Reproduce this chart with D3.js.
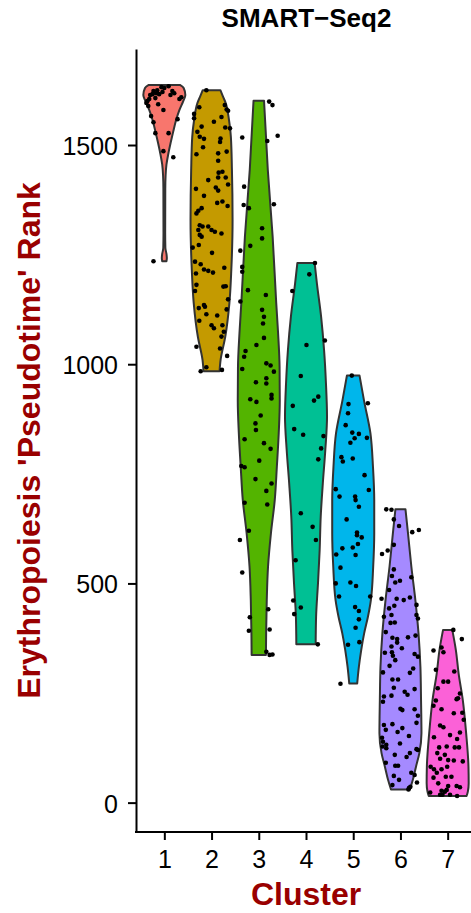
<!DOCTYPE html>
<html><head><meta charset="utf-8">
<script src="https://cdn.jsdelivr.net/npm/d3@7"></script>
<style>body{margin:0;background:#fff}svg{display:block}text{font-family:"Liberation Sans",Arial,Helvetica,sans-serif}</style>
</head><body>
<script>
const clusters = ["1","2","3","4","5","6","7"];
const fills = ["#F8766D","#C49A00","#53B400","#00C094","#00B6EB","#A58AFF","#FB61D7"];
const yTicks = [0,500,1000,1500];
const titleText = "SMART\u2212Seq2";
const yLabel = "Erythropoiesis 'Pseudotime' Rank";
const xLabel = "Cluster";

// violin outlines: [rank, relative width]
const violin1 = [[1637,0.74],[1630,0.92],[1614,1.0],[1600,0.9],[1580,0.72],[1557,0.56],[1530,0.42],[1505,0.3],[1480,0.19],[1455,0.1],[1430,0.06],[1400,0.045],[1300,0.04],[1265,0.05],[1252,0.1],[1242,0.12],[1235,0.1]];
const violin2 = [[1625,0.42],[1610,0.55],[1596,0.67],[1557,0.83],[1518,0.92],[1443,0.97],[1329,1.0],[1215,0.94],[1140,0.85],[1062,0.65],[1010,0.43],[984,0.38]];
const violin3 = [[1601,0.25],[1443,0.43],[1291,0.66],[1140,0.83],[1070,0.92],[994,0.99],[918,1.0],[843,0.95],[766,0.86],[690,0.76],[615,0.58],[538,0.44],[462,0.38],[387,0.35],[337,0.34]];
const violin4 = [[1231,0.41],[1184,0.52],[1108,0.72],[1032,0.86],[956,0.95],[880,1.0],[805,0.92],[728,0.8],[652,0.7],[576,0.65],[500,0.57],[424,0.48],[361,0.46]];
const violin5 = [[974,0.3],[918,0.51],[842,0.82],[766,0.94],[690,1.0],[614,1.0],[538,0.95],[462,0.84],[424,0.7],[386,0.52],[348,0.38],[310,0.27],[272,0.19]];
const violin6 = [[669,0.24],[614,0.36],[538,0.52],[462,0.71],[386,0.86],[310,0.95],[234,0.98],[158,1.0],[113,0.9],[82,0.74],[52,0.59],[30,0.45]];
const violin7 = [[394,0.22],[348,0.39],[295,0.52],[234,0.72],[158,0.88],[82,0.99],[44,1.0],[25,0.96],[15,0.9]];

// cells: [rank, jitter in cluster units]
const pts1 = [[1623,-0.23],[1618,-0.17],[1616,-0.25],[1616,-0.11],[1632,-0.06],[1634,0.09],[1623,0.17],[1609,0.36],[1605,0.32],[1600,-0.36],[1605,-0.32],[1596,-0.38],[1593,-0.13],[1580,-0.02],[1566,-0.28],[1552,-0.23],[1559,0.28],[1527,-0.19],[1527,0.09],[1486,-0.02],[1472,0.19],[1235,-0.23],[1614,-0.30],[1625,-0.15],[1630,0],[1614,0.13],[1589,-0.34],[1621,-0.04],[1607,-0.19],[1618,0.21]];
const pts2 = [[1625,-0.11],[1586,-0.26],[1571,-0.37],[1561,-0.37],[1591,0.28],[1581,0.32],[1578,0.35],[1564,0.21],[1553,0.05],[1540,0.29],[1538,0.39],[1542,-0.21],[1530,-0.30],[1519,-0.25],[1514,-0.16],[1515,0.19],[1507,0.18],[1495,-0.18],[1479,-0.32],[1481,0.14],[1485,0.32],[1464,0.14],[1437,0.15],[1439,0.23],[1426,0.14],[1426,0.30],[1420,-0.07],[1410,0.35],[1403,0.09],[1396,0.14],[1400,-0.33],[1384,-0.16],[1368,0.12],[1371,0.23],[1361,0.34],[1350,-0.28],[1344,-0.32],[1356,-0.21],[1317,-0.25],[1306,-0.28],[1314,-0.19],[1314,-0.07],[1295,-0.25],[1291,-0.21],[1306,0],[1302,0.07],[1298,0.21],[1272,-0.27],[1266,-0.40],[1254,0.01],[1234,-0.35],[1228,-0.23],[1216,-0.16],[1213,-0.07],[1209,0.03],[1207,-0.33],[1220,0.27],[1181,-0.32],[1167,-0.35],[1177,0.25],[1178,0.30],[1148,0.35],[1128,-0.27],[1135,-0.16],[1131,-0.14],[1125,0.32],[1099,-0.26],[1114,-0.11],[1111,0.12],[1089,0],[1082,0.05],[1089,0.23],[1074,0.26],[1063,0.21],[1040,-0.32],[1036,0.18],[1019,0.33],[993,-0.11],[984,-0.23],[987,0.22]];
const pts3 = [[1599,0.22],[1591,0.29],[1521,0.40],[1509,0.18],[1517,-0.35],[1405,-0.31],[1363,-0.32],[1356,-0.21],[1365,0.32],[1310,0.07],[1287,0.07],[1270,-0.18],[1259,-0.39],[1222,-0.35],[1211,-0.35],[1169,-0.23],[1158,0.15],[1143,-0.39],[1124,0.07],[1108,0.11],[1093,0.09],[1060,0.11],[1044,-0.05],[1030,-0.28],[1017,-0.31],[989,-0.35],[1002,0.16],[997,0.25],[983,0.32],[959,-0.06],[968,0.16],[956,0.16],[930,0.27],[922,0.27],[920,-0.18],[914,-0.05],[883,0.04],[865,-0.07],[850,-0.06],[829,-0.30],[820,0.11],[807,0.25],[780,0.01],[768,-0.37],[765,-0.30],[738,-0.07],[728,0.27],[711,0.16],[684,-0.30],[680,0.18],[620,-0.21],[599,-0.40],[525,-0.35],[441,0.20],[423,-0.19],[395,0.23],[392,-0.21],[344,0.16],[337,0.23],[338,0.29]];
const pts4 = [[1231,0.19],[1205,0.07],[1167,-0.29],[1054,0.40],[1044,0.01],[973,-0.11],[926,0.26],[917,0.17],[905,-0.28],[852,-0.25],[839,-0.06],[836,0.37],[808,0.32],[783,0.26],[660,-0.11],[629,0.14],[599,0.21],[553,-0.22],[461,-0.27],[445,-0.11],[430,-0.25],[361,0.25]];
const pts5 = [[974,-0.03],[911,0.31],[909,-0.10],[888,-0.11],[861,-0.16],[844,-0.02],[841,0.12],[831,0.03],[821,-0.06],[832,0.29],[788,-0.25],[778,-0.22],[785,-0.01],[747,0.24],[715,-0.37],[698,-0.29],[713,0.33],[698,0.04],[690,0.05],[675,0.12],[646,-0.14],[616,0.08],[610,0.08],[605,0.18],[590,0.10],[582,-0.01],[565,0.05],[580,-0.23],[566,-0.36],[536,-0.27],[500,-0.37],[502,-0.06],[494,0.06],[470,-0.30],[470,0.36],[446,0.04],[437,0.12],[418,0.12],[399,0.05],[366,0.13],[360,-0.11],[271,-0.27]];
const pts6 = [[669,-0.30],[668,-0.19],[646,-0.14],[631,-0.03],[617,0.25],[622,0.39],[567,-0.39],[575,-0.27],[588,-0.14],[532,-0.14],[517,-0.18],[502,-0.11],[506,-0.01],[514,0.23],[485,-0.24],[465,-0.40],[465,-0.08],[462,0.07],[468,0.20],[451,0.34],[443,-0.24],[449,-0.13],[428,-0.19],[428,0.34],[420,0.37],[424,-0.35],[410,-0.21],[411,-0.12],[389,-0.31],[381,0.32],[377,0.16],[376,-0.17],[373,-0.07],[356,-0.19],[365,-0.07],[352,0.03],[342,-0.33],[343,-0.18],[335,-0.16],[325,-0.11],[312,-0.23],[339,0.30],[333,0.37],[306,0.27],[296,0.20],[297,-0.37],[281,-0.17],[281,-0.05],[262,-0.14],[253,0.09],[246,0.15],[259,0.30],[242,-0.35],[230,-0.37],[244,-0.19],[214,0],[211,0.04],[213,0.30],[198,0.37],[182,0.34],[177,-0.35],[179,-0.17],[166,-0.31],[161,-0.06],[170,0.04],[152,0.18],[135,-0.01],[148,-0.39],[139,-0.37],[132,-0.30],[128,-0.38],[124,-0.30],[122,0.34],[120,0.37],[113,0.20],[104,0.13],[109,-0.12],[91,-0.31],[84,-0.11],[84,-0.05],[68,0.23],[63,0.30],[61,-0.14],[52,-0.03],[40,-0.17],[33,0.18],[36,0.21],[46,0.35],[30,0.17]];
const pts7 = [[394,0.12],[373,0.30],[347,-0.30],[354,-0.13],[343,-0.09],[303,-0.25],[299,0.14],[261,-0.21],[276,0.01],[276,-0.09],[249,0.26],[238,0.22],[236,0.19],[233,-0.25],[221,-0.30],[213,-0.13],[204,0.13],[205,0.31],[189,0.34],[176,-0.16],[172,-0.09],[160,0.26],[154,0.05],[149,-0.29],[145,0.20],[126,0.15],[126,0.24],[126,-0.18],[128,-0.02],[113,-0.22],[109,-0.06],[100,-0.16],[97,0.01],[96,0.13],[94,0.32],[82,-0.36],[76,-0.29],[76,-0.13],[82,-0.01],[68,-0.23],[59,-0.04],[59,0.08],[57,-0.30],[38,0.19],[38,0.01],[44,-0.20],[23,-0.37],[27,-0.13],[25,-0.06],[29,-0.02],[18,-0.11],[18,-0.16],[15,0.20],[35,0.26],[18,0.05]];

const violins = [violin1,violin2,violin3,violin4,violin5,violin6,violin7];
const points = [pts1,pts2,pts3,pts4,pts5,pts6,pts7];

(function(){
const W = 471, H = 913;
const mLeft = 136, mRight = 476, mTop = 49, mBottom = 832;
const svg = d3.select("body").append("svg").attr("width", W).attr("height", H);

const x = d3.scalePoint().domain(clusters).range([mLeft, mRight]).padding(0.6);
const step = x.step();
const y = d3.scaleLinear().domain([-67, 1719]).range([mBottom, mTop]);

const gV = svg.append("g");
clusters.forEach((c, i) => {
  const cx = x(c);
  const a = d3.area()
    .y(d => y(d[0]))
    .x0(d => cx - d[1]*0.445*step)
    .x1(d => cx + d[1]*0.445*step)
    .curve(d3.curveMonotoneY);
  gV.append("path").datum(violins[i]).attr("d", a)
    .attr("fill", fills[i]).attr("stroke", "#333333").attr("stroke-width", 2)
    .attr("stroke-linejoin", "round");
});

const gP = svg.append("g");
clusters.forEach((c, i) => {
  gP.selectAll(null).data(points[i]).join("circle")
    .attr("cx", d => x(c) + d[1]*step)
    .attr("cy", d => y(d[0]))
    .attr("r", 2.3)
    .attr("fill", "#000");
});

const gy = svg.append("g").attr("transform", `translate(${mLeft},0)`)
  .call(d3.axisLeft(y).tickValues(yTicks).tickFormat(d3.format("d")).tickSize(8).tickPadding(10).tickSizeOuter(0));
gy.select(".domain").attr("stroke", "#000").attr("stroke-width", 2);
gy.selectAll(".tick line").attr("stroke", "#000").attr("stroke-width", 2);
gy.selectAll(".tick text").attr("font-size", 25).attr("fill", "#000").attr("dy", "0.38em")
  .style("font-family", '"Liberation Sans",Arial,sans-serif');

const gx = svg.append("g").attr("transform", `translate(0,${mBottom})`)
  .call(d3.axisBottom(x).tickSize(8).tickPadding(10));
gx.select(".domain").remove();
gx.append("line").attr("x1", mLeft - 1).attr("x2", W).attr("y1", 0).attr("y2", 0)
  .attr("stroke", "#000").attr("stroke-width", 2);
gx.selectAll(".tick line").attr("stroke", "#000").attr("stroke-width", 2);
gx.selectAll(".tick text").attr("font-size", 25).attr("fill", "#000")
  .style("font-family", '"Liberation Sans",Arial,sans-serif');

svg.append("text").attr("x", 306.5).attr("y", 27).attr("text-anchor", "middle")
  .attr("font-size", 26).attr("font-weight", "bold").attr("fill", "#000").text(titleText);
svg.append("text").attr("x", (mLeft + mRight) / 2).attr("y", 905).attr("text-anchor", "middle")
  .attr("font-size", 32).attr("font-weight", "bold").attr("fill", "#990000").text(xLabel);
svg.append("text").attr("transform", `translate(40,${(mTop + mBottom) / 2}) rotate(-90)`)
  .attr("text-anchor", "middle").attr("font-size", 32).attr("font-weight", "bold")
  .attr("fill", "#990000").text(yLabel);
})();
</script>
</body></html>
